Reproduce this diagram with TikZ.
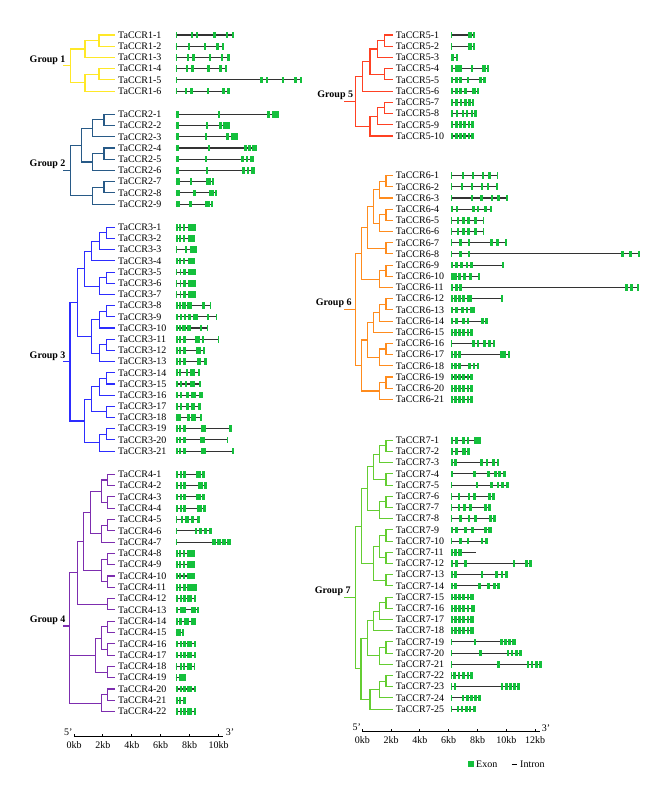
\documentclass[tikz,border=0pt]{standalone}
\usepackage{fontspec}
\setmainfont{Liberation Serif}
\usetikzlibrary{calc}

\definecolor{grpA}{RGB}{255,232,40}
\definecolor{grpB}{RGB}{40,90,135}
\definecolor{grpC}{RGB}{45,45,255}
\definecolor{grpD}{RGB}{125,45,175}
\definecolor{grpE}{RGB}{255,65,35}
\definecolor{grpF}{RGB}{255,140,30}
\definecolor{grpG}{RGB}{100,205,50}
\definecolor{exongreen}{RGB}{20,192,60}

\tikzset{
  lbl/.style={anchor=west, inner xsep=3pt, inner ysep=0pt, font=\fontsize{10}{12}\selectfont},
  grp/.style={anchor=base east, inner sep=0pt, font=\fontsize{10}{12}\selectfont\bfseries},
  branch/.style={line width=1.1pt},
  intron/.style={draw=black!80, line width=1.1pt},
  exon/.style={fill=exongreen},
  axis/.style={line width=1pt},
  kb/.style={inner sep=0pt, font=\fontsize{10}{12}\selectfont}
}

% parent at x=#2, halfway between two children
\newcommand{\clade}[4]{%
  \path ($(#3)!.5!(#4)$) coordinate (#1m);
  \coordinate (#1) at (#2,0 |- #1m);
  \draw[branch] (#1) |- (#3);
  \draw[branch] (#1) |- (#4);}

% gene model on the row of label #1: length #2, exons #3
\newcommand{\gene}[3]{%
  \begin{scope}[shift={(\gx,0 |- #1)}]
    \draw[intron] (0,0) -- (#2,0);
    \foreach \a/\b in {#3} \fill[exon] (\a,-3.3) rectangle (\b,3.3);
  \end{scope}}

\begin{document}
\begin{tikzpicture}[x=1pt,y=-1pt]
    \useasboundingbox (0,0) rectangle (661,798);

    % gene names
    \foreach \i in {1,...,6} \node[lbl] (g1r\i) at (115,{35+(\i-1)*11.22}) {TaCCR1-\i};
    \foreach \i in {1,...,9} \node[lbl] (g2r\i) at (115,{114.3+(\i-1)*11.22}) {TaCCR2-\i};
    \foreach \i in {1,...,21} \node[lbl] (g3r\i) at (115,{227.3+(\i-1)*11.19}) {TaCCR3-\i};
    \foreach \i in {1,...,22} \node[lbl] (g4r\i) at (115,{474.3+(\i-1)*11.3}) {TaCCR4-\i};
    \foreach \i in {1,...,10} \node[lbl] (g5r\i) at (392.7,{35+(\i-1)*11.22}) {TaCCR5-\i};
    \foreach \i in {1,...,21} \node[lbl] (g6r\i) at (392.7,{175.6+(\i-1)*11.19}) {TaCCR6-\i};
    \foreach \i in {1,...,25} \node[lbl] (g7r\i) at (392.7,{440.3+(\i-1)*11.2}) {TaCCR7-\i};

    % group 1
    \begin{scope}[grpA]
    \clade{n1a}{99}{g1r1.west}{g1r2.west}
    \clade{n1b}{85}{n1a}{g1r3.west}
    \clade{n1c}{99}{g1r4.west}{g1r5.west}
    \clade{n1d}{85}{n1c}{g1r6.west}
    \clade{n1r}{70.7}{n1b}{n1d}
    \draw[branch] (n1r) -- ++(-7.5,0) coordinate (s1);
    \end{scope}
    \node[grp] (grp1) at ([xshift=2.4pt,yshift=3.5pt]s1) {Group 1};

    % group 2
    \begin{scope}[grpB]
    \clade{n2a}{104}{g2r1.west}{g2r2.west}
    \clade{n2b}{92.3}{n2a}{g2r3.west}
    \clade{n2c}{104}{g2r4.west}{g2r5.west}
    \clade{n2d}{92.3}{n2c}{g2r6.west}
    \clade{n2e}{81.7}{n2b}{n2d}
    \clade{n2f}{104}{g2r7.west}{g2r8.west}
    \clade{n2h}{92.3}{n2f}{g2r9.west}
    \clade{n2r}{70.7}{n2e}{n2h}
    \draw[branch] (n2r) -- ++(-7.5,0) coordinate (s2);
    \end{scope}
    \node[grp] (grp2) at ([xshift=2.4pt,yshift=3.5pt]s2) {Group 2};

    % group 3
    \begin{scope}[grpC]
    \clade{n3a}{106.7}{g3r1.west}{g3r2.west}
    \clade{n3b}{99.3}{n3a}{g3r3.west}
    \clade{n3c}{91.7}{n3b}{g3r4.west}
    \clade{n3d}{106.7}{g3r5.west}{g3r6.west}
    \clade{n3e}{99.3}{n3d}{g3r7.west}
    \clade{n3f}{84.3}{n3c}{n3e}
    \clade{n3h}{106.7}{g3r8.west}{g3r9.west}
    \clade{n3i}{99.3}{n3h}{g3r10.west}
    \clade{n3j}{106.7}{g3r11.west}{g3r12.west}
    \clade{n3k}{99.3}{n3j}{g3r13.west}
    \clade{n3l}{91.7}{n3i}{n3k}
    \clade{n3m}{77.3}{n3f}{n3l}
    \clade{n3n}{106.7}{g3r14.west}{g3r15.west}
    \clade{n3o}{99.3}{n3n}{g3r16.west}
    \clade{n3p}{106.7}{g3r17.west}{g3r18.west}
    \clade{n3q}{91.7}{n3o}{n3p}
    \clade{n3s}{106.7}{g3r19.west}{g3r20.west}
    \clade{n3t}{99.3}{n3s}{g3r21.west}
    \clade{n3u}{84.3}{n3q}{n3t}
    \clade{n3r}{70}{n3m}{n3u}
    \draw[branch] (n3r) -- ++(-6.8,0) coordinate (s3);
    \end{scope}
    \node[grp] (grp3) at ([xshift=2.4pt,yshift=3.5pt]s3) {Group 3};

    % group 4
    \begin{scope}[grpD]
    \clade{n4a}{107.7}{g4r1.west}{g4r2.west}
    \clade{n4b}{107.7}{g4r3.west}{g4r4.west}
    \clade{n4c}{101.7}{n4a}{n4b}
    \clade{n4d}{107.7}{g4r5.west}{g4r6.west}
    \clade{n4e}{101.7}{n4d}{g4r7.west}
    \clade{n4f}{90.7}{n4c}{n4e}
    \clade{n4h}{107.7}{g4r8.west}{g4r9.west}
    \clade{n4i}{107.7}{g4r10.west}{g4r11.west}
    \clade{n4j}{101.7}{n4h}{n4i}
    \clade{n4k}{83.3}{n4f}{n4j}
    \clade{n4l}{107.7}{g4r12.west}{g4r13.west}
    \clade{n4m}{77.3}{n4k}{n4l}
    \clade{n4n}{107.7}{g4r14.west}{g4r15.west}
    \clade{n4o}{107.7}{g4r16.west}{g4r17.west}
    \clade{n4p}{101.7}{n4n}{n4o}
    \clade{n4q}{107.7}{g4r18.west}{g4r19.west}
    \clade{n4s}{95.7}{n4p}{n4q}
    \clade{n4t}{107.7}{g4r20.west}{g4r21.west}
    \clade{n4u}{101.7}{n4t}{g4r22.west}
    \clade{n4v}{69.3}{n4s}{n4u}
    \clade{n4r}{69.3}{n4m}{n4v}
    \draw[branch] (n4r) -- ++(-6,0) coordinate (s4);
    \end{scope}
    \node[grp] (grp4) at ([xshift=2.4pt,yshift=3.5pt]s4) {Group 4};

    % group 5
    \begin{scope}[grpE]
    \clade{n5a}{384.3}{g5r1.west}{g5r2.west}
    \clade{n5b}{377.3}{n5a}{g5r3.west}
    \clade{n5c}{384.3}{g5r4.west}{g5r5.west}
    \clade{n5d}{370}{n5b}{n5c}
    \clade{n5e}{362.7}{n5d}{g5r6.west}
    \clade{n5f}{384.3}{g5r7.west}{g5r8.west}
    \clade{n5h}{377.3}{n5f}{g5r9.west}
    \clade{n5i}{370}{n5h}{g5r10.west}
    \clade{n5r}{355.3}{n5e}{n5i}
    \draw[branch] (n5r) -- ++(-11,0) coordinate (s5);
    \end{scope}
    \node[grp] (grp5) at ([xshift=9pt,yshift=3.5pt]s5) {Group 5};

    % group 6
    \begin{scope}[grpF]
    \clade{n6a}{386}{g6r1.west}{g6r2.west}
    \clade{n6b}{379.3}{n6a}{g6r3.west}
    \clade{n6c}{386}{g6r4.west}{g6r5.west}
    \clade{n6d}{379.3}{n6c}{g6r6.west}
    \clade{n6e}{373.3}{n6b}{n6d}
    \clade{n6f}{386}{g6r7.west}{g6r8.west}
    \clade{n6h}{367.7}{n6e}{n6f}
    \clade{n6i}{386}{g6r9.west}{g6r10.west}
    \clade{n6j}{379.3}{n6i}{g6r11.west}
    \clade{n6k}{361.7}{n6h}{n6j}
    \clade{n6l}{386}{g6r12.west}{g6r13.west}
    \clade{n6m}{379.3}{n6l}{g6r14.west}
    \clade{n6n}{373.3}{n6m}{g6r15.west}
    \clade{n6o}{386}{g6r16.west}{g6r17.west}
    \clade{n6p}{379.3}{n6o}{g6r18.west}
    \clade{n6q}{367.7}{n6n}{n6p}
    \clade{n6s}{386}{g6r19.west}{g6r20.west}
    \clade{n6t}{379.3}{n6s}{g6r21.west}
    \clade{n6u}{361.7}{n6q}{n6t}
    \clade{n6r}{355.3}{n6k}{n6u}
    \draw[branch] (n6r) -- ++(-11,0) coordinate (s6);
    \end{scope}
    \node[grp] (grp6) at ([xshift=7.5pt,yshift=3.5pt]s6) {Group 6};

    % group 7
    \begin{scope}[grpG]
    \clade{n7a}{386}{g7r1.west}{g7r2.west}
    \clade{n7b}{379.3}{n7a}{g7r3.west}
    \clade{n7c}{386}{g7r4.west}{g7r5.west}
    \clade{n7d}{373.3}{n7b}{n7c}
    \clade{n7e}{386}{g7r6.west}{g7r7.west}
    \clade{n7f}{379.3}{n7e}{g7r8.west}
    \clade{n7h}{367.7}{n7d}{n7f}
    \clade{n7i}{386}{g7r9.west}{g7r10.west}
    \clade{n7j}{386}{g7r11.west}{g7r12.west}
    \clade{n7k}{379.3}{n7i}{n7j}
    \clade{n7l}{386}{g7r13.west}{g7r14.west}
    \clade{n7m}{373.3}{n7k}{n7l}
    \clade{n7n}{361.7}{n7h}{n7m}
    \clade{n7o}{386}{g7r15.west}{g7r16.west}
    \clade{n7p}{379.3}{n7o}{g7r17.west}
    \clade{n7q}{373.3}{n7p}{g7r18.west}
    \clade{n7s}{386}{g7r19.west}{g7r20.west}
    \clade{n7t}{379.3}{n7s}{g7r21.west}
    \clade{n7u}{367.7}{n7q}{n7t}
    \clade{n7v}{386}{g7r22.west}{g7r23.west}
    \clade{n7w}{379.3}{n7v}{g7r24.west}
    \clade{n7z}{370}{n7w}{g7r25.west}
    \clade{n7y}{361}{n7u}{n7z}
    \clade{n7r}{355.3}{n7n}{n7y}
    \draw[branch] (n7r) -- ++(-11,0) coordinate (s7);
    \end{scope}
    \node[grp] (grp7) at ([xshift=6.5pt,yshift=3.5pt]s7) {Group 7};

    % gene structures, left column
    \def\gx{175.5}
    \gene{g1r1}{58}{0/1.7,15/17.5,20/22.5,37.5/40,50/52.5,56/58}
    \gene{g1r2}{48.3}{0/0.8,12.3/14.3,28.3/30.7,40.7/43.3,46.7/48.3}
    \gene{g1r3}{54.3}{0/1.7,11/13.7,16.7/19.3,33.3/35.7,45/47.7,51.7/54.3}
    \gene{g1r4}{51.7}{0/1.7,10/12.7,15.7/18.3,31.7/34,43.3/46,49.3/51.7}
    \gene{g1r5}{126}{0/1,84.3/87,90/92.7,106/108.3,118.3/121,124/126}
    \gene{g1r6}{54.3}{0/1.7,9/11.7,14.3/17,31/33.7,46.7/49.3,51.7/54.3}
    \gene{g2r1}{103.3}{0/3.3,42.3/44.7,91.7/94.3,96.7/103.3}
    \gene{g2r2}{54.3}{0/3.3,30/32.3,43.3/46,47.7/54.3}
    \gene{g2r3}{62.3}{0/3.3,29/31.3,50/53,55.7/62.3}
    \gene{g2r4}{81.7}{0/3.3,32.3/34.7,68.3/71,72.7/75,76.7/81.7}
    \gene{g2r5}{78.3}{0/3.3,29/31.3,65.7/68.3,70/72.7,74/78.3}
    \gene{g2r6}{79.3}{0/3.3,30/32.3,66.7/69.3,71/73.3,75/79.3}
    \gene{g2r7}{38.3}{0/4,14.3/16.7,30.7/35,36.3/38.3}
    \gene{g2r8}{41}{0/4,17.7/20.3,33.7/38.3,39.3/41}
    \gene{g2r9}{37.7}{0/4,13.3/16,29.7/34.3,35.7/37.7}
    \gene{g3r1}{20}{0/2,3.5/5.5,7/9,12/20}
    \gene{g3r2}{19.5}{0/2,3.5/5.5,7/9,12/19.5}
    \gene{g3r3}{21.7}{0/1.7,9.3/11.7,14/21.7}
    \gene{g3r4}{19.5}{0/2,3.5/5.5,7/9,12/19.5}
    \gene{g3r5}{20.7}{0/1.7,4/5.7,7.7/10,12.7/20.7}
    \gene{g3r6}{20.7}{0/1.7,4/5.7,7.7/10,12.7/20.7}
    \gene{g3r7}{20.7}{0/1.7,4/5.7,7.7/10,12.7/20.7}
    \gene{g3r8}{35}{0/2,3.3/5.3,6.7/10,11/16.7,26.7/29,34/35}
    \gene{g3r9}{41.7}{0/2.3,4.3/6.7,8.3/10.7,12.3/15,17.7/22.3,31/33.7,40.3/41.7}
    \gene{g3r10}{32.7}{0/2,3.3/5.3,6.7/10,11/15.7,24.3/26.7,31.7/32.7}
    \gene{g3r11}{42.7}{0/2,3.7/5.7,7/10,19/24.3,26/28.7,42/42.7}
    \gene{g3r12}{29.7}{0/2,3.7/5.7,7/10,20/25,27/29.7}
    \gene{g3r13}{31}{0/2,3.7/5.7,7/10,21/25.7,28/31}
    \gene{g3r14}{24.3}{0/2,3.3/5.3,10/12.7,14.3/19.3,22.3/24.3}
    \gene{g3r15}{25.3}{0/2,4/6,9/11.7,14/19,23.3/25.3}
    \gene{g3r16}{27.7}{0/2,4/6,10.7/13.3,15/20,23.3/27.7}
    \gene{g3r17}{25}{0/2,4/6,10.7/13.3,15/19.3,22.3/25}
    \gene{g3r18}{26.7}{0/5,11.7/14.3,15.7/20,24.3/26.7}
    \gene{g3r19}{56}{0/2,3.3/5.3,7/10,25.7/30.7,53.3/56}
    \gene{g3r20}{52.3}{0/2,3.3/5.3,7/10,24.3/29.3,51.8/52.3}
    \gene{g3r21}{58.3}{0/2,3.3/5.3,7/10,25/30,56/58.3}
    \gene{g4r1}{29.3}{0/2,4/6,7.7/10.7,20.7/25,26.3/29.3}
    \gene{g4r2}{31}{0/2,4/6,7.7/10.7,22.3/27,28.3/31}
    \gene{g4r3}{29.3}{0/2,4/6,7.7/10.7,20.7/25,26.3/29.3}
    \gene{g4r4}{30.7}{0/2,4/6,7.7/10.7,21.7/26.3,27.7/30.7}
    \gene{g4r5}{24.3}{0/1.7,5/7,9.3/13.3,15/18.3,21/24.3}
    \gene{g4r6}{36.7}{0/1.7,19/21.7,23.3/26.7,28.3/31.7,33.3/36.7}
    \gene{g4r7}{55}{0/1.7,36.7/40,41.7/45,46.7/50,51.7/55}
    \gene{g4r8}{19}{0/2,3.3/5.7,7/9,11/19}
    \gene{g4r9}{19}{0/2,3.3/5.7,7/9,11/19}
    \gene{g4r10}{19}{0/2,3.3/5.7,7/9,11/19}
    \gene{g4r11}{21}{0/2.3,3.7/5.7,7.7/10,11.7/21}
    \gene{g4r12}{20.7}{0/2,4/6,7.7/10.3,11.7/16.7,18.3/20.7}
    \gene{g4r13}{23.7}{0/2.3,4.3/10,15/20,21/23.7}
    \gene{g4r14}{20}{0/2.3,3.3/6.7,8.3/13.3,15/20}
    \gene{g4r15}{8.3}{0/5,6/8.3}
    \gene{g4r16}{20.7}{0/2,4/6,7.7/10.3,11.7/16.7,18.3/20.7}
    \gene{g4r17}{20.7}{0/2,4/6,7.7/10.3,11.7/16.7,18.3/20.7}
    \gene{g4r18}{19}{0/1.7,4/6,7.7/9.7,11.7/16.7,18/19}
    \gene{g4r19}{10}{0/1.7,3.3/10}
    \gene{g4r20}{20.7}{0/2,4/6,7.7/10.3,11.7/16.7,18.3/20.7}
    \gene{g4r21}{10}{0/2,3.3/5.3,7.3/10}
    \gene{g4r22}{20.7}{0/2,4/6,7.7/10.3,11.7/16.7,18.3/20.7}

    % gene structures, right column
    \def\gx{451}
    \gene{g5r1}{24}{0/1,17.3/20.7,21.7/24}
    \gene{g5r2}{24}{0/1,17.3/20.7,21.7/24}
    \gene{g5r3}{7.3}{0/3.3,4.7/7.3}
    \gene{g5r4}{37.7}{0/2.3,4/6.7,7.3/10.7,19.7/22.3,31.3/34.7,35.7/37.7}
    \gene{g5r5}{34.7}{0/2.3,4/6.7,8/10.7,15.7/18.3,28/31.3,32.3/34.7}
    \gene{g5r6}{27.7}{0/2.3,4/6.7,8/10.7,13/15.7,21.3/24.7,25.7/27.7}
    \gene{g5r7}{23.3}{0/2.3,4/6.7,8.7/11.3,13/15.7,17.3/20,21.3/23.3}
    \gene{g5r8}{25.7}{0/2.3,4.7/7.3,10.7/13.3,14.7/17.3,20/22.3,23.3/25.7}
    \gene{g5r9}{23}{0/2.3,4/6.7,8/10.7,12.3/14.7,16.7/19,20/23}
    \gene{g5r10}{23}{0/2.3,4/6.7,8/10.7,12.3/14.7,16.7/19,20/23}
    \gene{g6r1}{47.3}{0/1.3,10.7/12.7,20.7/22.7,30.7/33,37.3/39.7,45.7/47.3}
    \gene{g6r2}{46.7}{0/1.3,9.7/12,20/22.3,30/32.3,35.7/38.3,45/46.7}
    \gene{g6r3}{56.7}{0/1.3,20/22.3,29/31.7,39.7/42.3,46.3/49,54.7/56.7}
    \gene{g6r4}{40.7}{0/2.3,5/7.3,21.3/24,25.7/28.3,33/35.7,39/40.7}
    \gene{g6r5}{33.3}{0/1.3,5.7/8.3,11.3/14,16.3/19,23/25.7,31.7/33.3}
    \gene{g6r6}{33.3}{0/1.3,5.7/8.3,11.3/14,16.3/19,23/25.7,31.7/33.3}
    \gene{g6r7}{56}{0/1.3,8.3/11,16.7/19.3,39/41.7,45/47.7,54/56}
    \gene{g6r8}{188.7}{0/1.3,8.3/11,16.7/19.3,170/172.7,178/180.7,186.7/188.7}
    \gene{g6r9}{53.3}{0/2.3,4/6.7,9/12.3,14.7/17.3,19/22.3,51.3/53.3}
    \gene{g6r10}{29.3}{0/5.7,7.3/9.7,12.3/15,18/20.7,27.3/29.3}
    \gene{g6r11}{188}{0/2.3,4/6.7,8.3/10.7,174/176.7,179/181.7,186/188}
    \gene{g6r12}{52}{0/2.3,3/5.7,7.3/10,11.3/14,15.7/21.3,50/52}
    \gene{g6r13}{24}{0/2.3,4/6.7,10/13.3,14.7/17.3,19/24}
    \gene{g6r14}{36.7}{0/2.3,4/6.7,11.3/14,15.7/18.3,30/32.7,34/36.7}
    \gene{g6r15}{21.7}{0/2.3,3.3/5.7,7.3/10,11.3/14,15.7/18,19/21.7}
    \gene{g6r16}{44}{0/1.3,21.3/24,25.7/28.3,32.3/35,37.3/40,41.7/44}
    \gene{g6r17}{59}{0/2.3,3.3/5.7,7.3/10,49/51.7,52.3/55,56.7/59}
    \gene{g6r18}{28}{0/2.3,3.3/5.7,7.3/10,17.3/20,21.7/24,25.7/28}
    \gene{g6r19}{21.7}{0/2.3,3.3/5.7,7.3/10,11.3/14,15.7/18,19/21.7}
    \gene{g6r20}{21.7}{0/2.3,3.3/5.7,7.3/10,11.3/14,15.7/18,19/21.7}
    \gene{g6r21}{21.7}{0/2.3,3.3/5.7,7.3/10,11.3/14,15.7/18,19/21.7}
    \gene{g7r1}{30}{0/2.3,4/6.7,11.3/14,15.7/18.3,23.3/26.7,27.3/30}
    \gene{g7r2}{19.3}{0/2.3,4/6.7,11.3/14.7,16/19.3}
    \gene{g7r3}{48.3}{0/2.3,3.3/5.7,29/31.7,34.7/37.3,41.3/44,45.7/48.3}
    \gene{g7r4}{54.7}{0/2.3,22.3/25,36.3/39,43/45.7,47.3/50,51.7/54.7}
    \gene{g7r5}{58}{0/1.3,25/27.3,39/41.7,45.7/48.3,50/52.7,54.7/58}
    \gene{g7r6}{44}{0/1.3,6.7/9.3,16.7/19.3,22.3/25,37.3/40,41/44}
    \gene{g7r7}{40.3}{0/1.3,6.7/9.3,12.3/15,18.3/20.7,33/35.7,37.3/40.3}
    \gene{g7r8}{45}{0/1.3,8/10.7,16.7/19.3,23.3/26,38/40.7,42.3/45}
    \gene{g7r9}{40.7}{0/2.3,4/6.7,13/15.7,20/22.7,33/35.7,37.3/40.7}
    \gene{g7r10}{36.7}{0/1.3,8/10.7,15.7/18.3,29.7/32.3,34/36.7}
    \gene{g7r11}{25}{0/2.3,3.3/5.7,7.3/10.7}
    \gene{g7r12}{81.3}{0/2.3,4/6.7,13.3/15.7,61.7/64,74/77.3,78.3/81.3}
    \gene{g7r13}{57.3}{0/2.3,3.3/5.7,29.7/32.3,44/46.7,49.7/52.3,54/57.3}
    \gene{g7r14}{49.3}{0/2.3,3.3/5.7,27.3/30,36.3/39,42.3/45,46.3/49.3}
    \gene{g7r15}{22.7}{0/2.3,3.3/5.7,7.3/10,11.3/14,15.7/18,19/22.7}
    \gene{g7r16}{24}{0/2.3,3.3/5.7,7.3/10,11.3/14,15.7/18,19.7/24}
    \gene{g7r17}{22.7}{0/2.3,3.3/5.7,7.3/10,11.3/14,15.7/18,19/22.7}
    \gene{g7r18}{22.7}{0/2.3,3.3/5.7,7.3/10,11.3/14,15.7/18,19/22.7}
    \gene{g7r19}{64.7}{0/1.3,22.7/25,49/51.7,53/55.7,57.3/60,61.3/64.7}
    \gene{g7r20}{71.3}{0/1.3,28.3/30.7,55.7/58.3,59.7/62.3,64/66.7,68/71.3}
    \gene{g7r21}{91.3}{0/1.3,46.3/48.7,75.7/78.3,79.7/82.3,84/86.7,88/91.3}
    \gene{g7r22}{22.3}{0/1.3,2/4.7,6.7/9,11.3/14,15.7/18,19/22.3}
    \gene{g7r23}{69}{0/1.3,3.3/5,50/52.3,54/56.7,58/60.7,62.3/65,65.7/69}
    \gene{g7r24}{30}{0/1.3,10.7/13.3,15/17.7,19/21.7,23/25.7,26.7/30}
    \gene{g7r25}{25}{0/1.3,5.7/8.3,9.7/12.3,14/16.7,17.7/20.3,22/25}

    % scale bars
    \draw[axis] (74,736) -- (222.7,736);
    \foreach \kbv in {0,2,...,10} {
      \draw[axis] ({74+14.45*\kbv},736) -- ++(0,-2.5);
      \node[kb] (kL\kbv) at ({74+14.45*\kbv},745) {\kbv kb};
    }
    \node[kb] (pL5) at (68.3,732.5) {5'};
    \node[kb] (pL3) at (230,732.5) {3'};
    \draw[axis] (362.3,731.7) -- (540,731.7);
    \foreach \kbv in {0,2,...,12} {
      \draw[axis] ({362.3+14.4*\kbv},731.7) -- ++(0,-2.5);
      \node[kb] (kR\kbv) at ({362.3+14.4*\kbv},740.5) {\kbv kb};
    }
    \node[kb] (pR5) at (356.7,727) {5'};
    \node[kb] (pR3) at (546,728.3) {3'};

    % legend
    \node[fill=exongreen, minimum size=6pt, inner sep=0pt] (exbox) at (471.3,764) {};
    \node[lbl, inner xsep=0pt] (exlbl) at (476,764) {Exon};
    \draw[line width=1pt] (511.7,764) coordinate (inA) -- (517.3,764) coordinate (inB);
    \node[lbl, inner xsep=0pt] (inlbl) at (520,764) {Intron};
\end{tikzpicture}
\end{document}
